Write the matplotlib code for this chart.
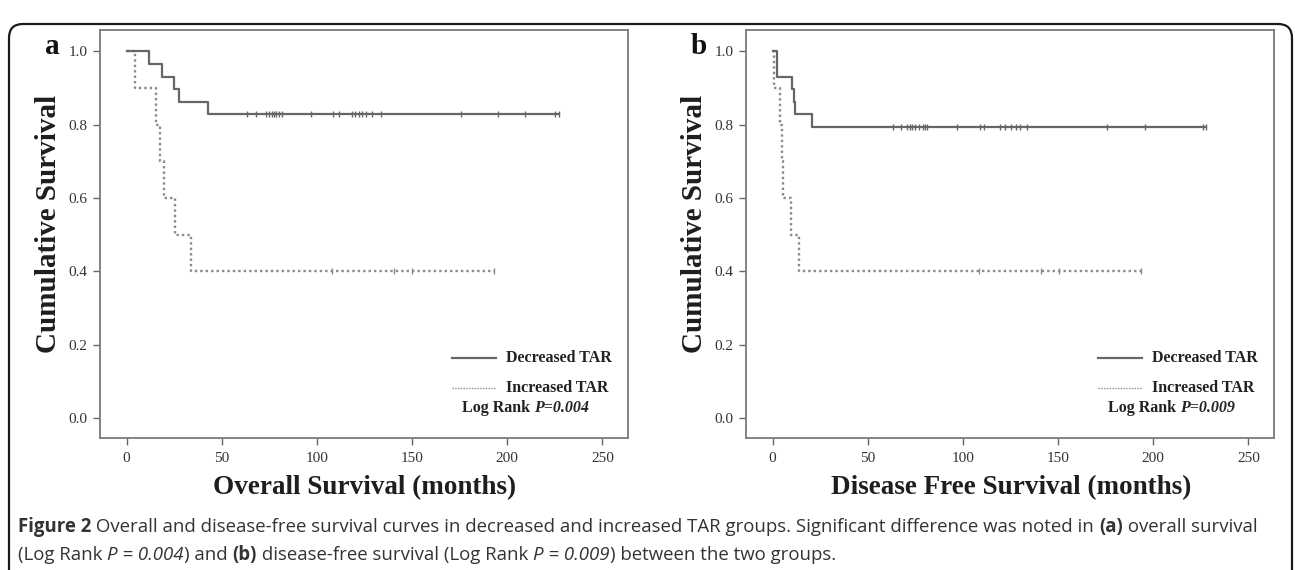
import numpy as np
import matplotlib
matplotlib.use("Agg")
import matplotlib.pyplot as plt
from matplotlib.patches import FancyBboxPatch
from matplotlib.lines import Line2D
from matplotlib.transforms import IdentityTransform

# step data: event times (months) and survival after each step
os_dec_t = [0, 12.0, 18.8, 25.0, 27.6, 43.0]
os_dec_s = [1.0, 0.966, 0.931, 0.897, 0.862, 0.828]
os_dec_cens = [63.4, 67.8, 73.1, 74.9, 76.6, 77.5, 78.4, 80.1, 81.8, 96.7, 108.5, 111.6,
               118.6, 120.0, 122.1, 123.9, 125.6, 129.1, 133.5, 175.5, 195.2, 209.2, 225.0, 227.4]

os_inc_t = [0, 4.5, 15.3, 17.6, 19.7, 25.5, 33.7]
os_inc_s = [1.0, 0.9, 0.8, 0.7, 0.6, 0.5, 0.4]
os_inc_cens = [108.0, 140.5, 150.0, 193.0]

dfs_dec_t = [0, 2.5, 10.0, 11.2, 11.7, 20.9]
dfs_dec_s = [1.0, 0.931, 0.897, 0.862, 0.828, 0.793]
dfs_dec_cens = [63.5, 67.3, 70.6, 72.0, 73.0, 75.0, 76.7, 78.9, 80.0, 81.1, 97.0, 109.0,
                111.3, 119.6, 122.3, 125.1, 127.7, 130.2, 133.9, 175.6, 195.8, 226.0, 228.0]

dfs_inc_t = [0, 0.7, 3.9, 5.0, 5.2, 9.8, 13.8]
dfs_inc_s = [1.0, 0.9, 0.8, 0.7, 0.6, 0.5, 0.4]
dfs_inc_cens = [108.6, 141.0, 150.7, 193.7]

x_ticks = [0, 50, 100, 150, 200, 250]
y_ticks = [0.0, 0.2, 0.4, 0.6, 0.8, 1.0]

panels = [
    ("a", "Overall Survival (months)", "0.004",
     (os_dec_t, os_dec_s, os_dec_cens), (os_inc_t, os_inc_s, os_inc_cens)),
    ("b", "Disease Free Survival (months)", "0.009",
     (dfs_dec_t, dfs_dec_s, dfs_dec_cens), (dfs_inc_t, dfs_inc_s, dfs_inc_cens)),
]

W, H = 1295, 570
SERIF = "Liberation Serif"
CAP = "Open Sans"


def fx(px):
    return px / W


def fy(py):
    return 1 - py / H


solid = dict(color="#666666", lw=1.6, linestyle="-")
dotted = dict(color="#8a8a8a", lw=1.7, linestyle=(0, (1, 1.3)))

fig = plt.figure(figsize=(W / 100, H / 100), dpi=100)
renderer = fig.canvas.get_renderer()


def put_pieces(x, y, pieces, **kw):
    for s, props in pieces:
        t = fig.text(fx(x), fy(y), s, ha="left", va="center", **kw, **props)
        x += t.get_window_extent(renderer).width
    return x


def draw_km(ax, t, s, cens, style):
    tt = list(t) + [max(cens)]
    ss = list(s) + [s[-1]]
    ax.step(tt, ss, where="post", **style)
    idx = np.searchsorted(t, cens, side="right") - 1
    lev = np.array(s)[idx]
    ax.plot(cens, lev, linestyle="none", marker="|", markersize=4,
            markeredgewidth=1, color=style["color"])


lefts = [100, 746]
for (tag, xlab, pval, dec, inc), left in zip(panels, lefts):
    ax = fig.add_axes([fx(left), fy(438), 528 / W, 408 / H])
    draw_km(ax, *inc, dotted)
    draw_km(ax, *dec, solid)
    ax.set_xlim(-14, 263.5)
    ax.set_ylim(-0.055, 1.058)
    ax.set_xticks(x_ticks)
    ax.set_yticks(y_ticks)
    ax.set_yticklabels(["%.1f" % v for v in y_ticks])
    for sp in ax.spines.values():
        sp.set_color("#7a7a7a")
        sp.set_linewidth(1.3)
    ax.tick_params(direction="out", length=5, width=1, color="#666666",
                   labelsize=11, labelcolor="#333333")
    ax.tick_params(axis="x", pad=5)
    ax.tick_params(axis="y", pad=4)
    for lab in ax.get_xticklabels() + ax.get_yticklabels():
        lab.set_family(SERIF)

    # panel letter and axis titles
    fig.text(fx(left - 55), fy(47), tag, fontsize=21, fontweight="bold",
             family=SERIF, ha="left", va="center", color="#111111")
    fig.text(fx(left - 51), fy(224), "Cumulative Survival", rotation=90,
             fontsize=21, fontweight="bold", family=SERIF, ha="center",
             va="center", color="#1e1e1e")
    fig.text(fx(left + 265), fy(488), xlab, fontsize=19.5, fontweight="bold",
             family=SERIF, ha="center", va="center", color="#1e1e1e")

    # legend block
    lx = left + 352
    fig.add_artist(Line2D([fx(lx), fx(lx + 44)], [fy(358), fy(358)], **solid))
    fig.add_artist(Line2D([fx(lx), fx(lx + 44)], [fy(388), fy(388)],
                          color="#8a8a8a", lw=1.0, linestyle=(0, (1, 1))))
    fig.text(fx(lx + 54), fy(358), "Decreased TAR", fontsize=11.5,
             fontweight="bold", family=SERIF, ha="left", va="center", color="#222222")
    fig.text(fx(lx + 54), fy(388), "Increased TAR", fontsize=11.5,
             fontweight="bold", family=SERIF, ha="left", va="center", color="#222222")
    put_pieces(lx + 10, 408,
               [("Log Rank ", dict(fontweight="bold")),
                ("P=" + pval, dict(fontweight="bold", style="italic"))],
               fontsize=11.5, family=SERIF, color="#222222")

# caption
nrm = dict()
bld = dict(fontweight="bold")
itl = dict(style="italic")
cap_kw = dict(fontsize=13.4, family=CAP, color="#333333")
put_pieces(18, 527,
           [("Figure 2", bld),
            (" Overall and disease-free survival curves in decreased and increased TAR groups. "
             "Significant difference was noted in ", nrm),
            ("(a)", bld),
            (" overall survival", nrm)], **cap_kw)
put_pieces(18, 555,
           [("(Log Rank ", nrm),
            ("P = 0.004", itl),
            (") and ", nrm),
            ("(b)", bld),
            (" disease-free survival (Log Rank ", nrm),
            ("P = 0.009", itl),
            (") between the two groups.", nrm)], **cap_kw)

# rounded outer frame
box = FancyBboxPatch((9, -30), 1283, 588 - 12, boxstyle="round,pad=0,rounding_size=14",
                     transform=IdentityTransform(), fill=False, lw=1.6, ec="#1a1a1a")
fig.add_artist(box)

fig.savefig("out.png", dpi=100)
